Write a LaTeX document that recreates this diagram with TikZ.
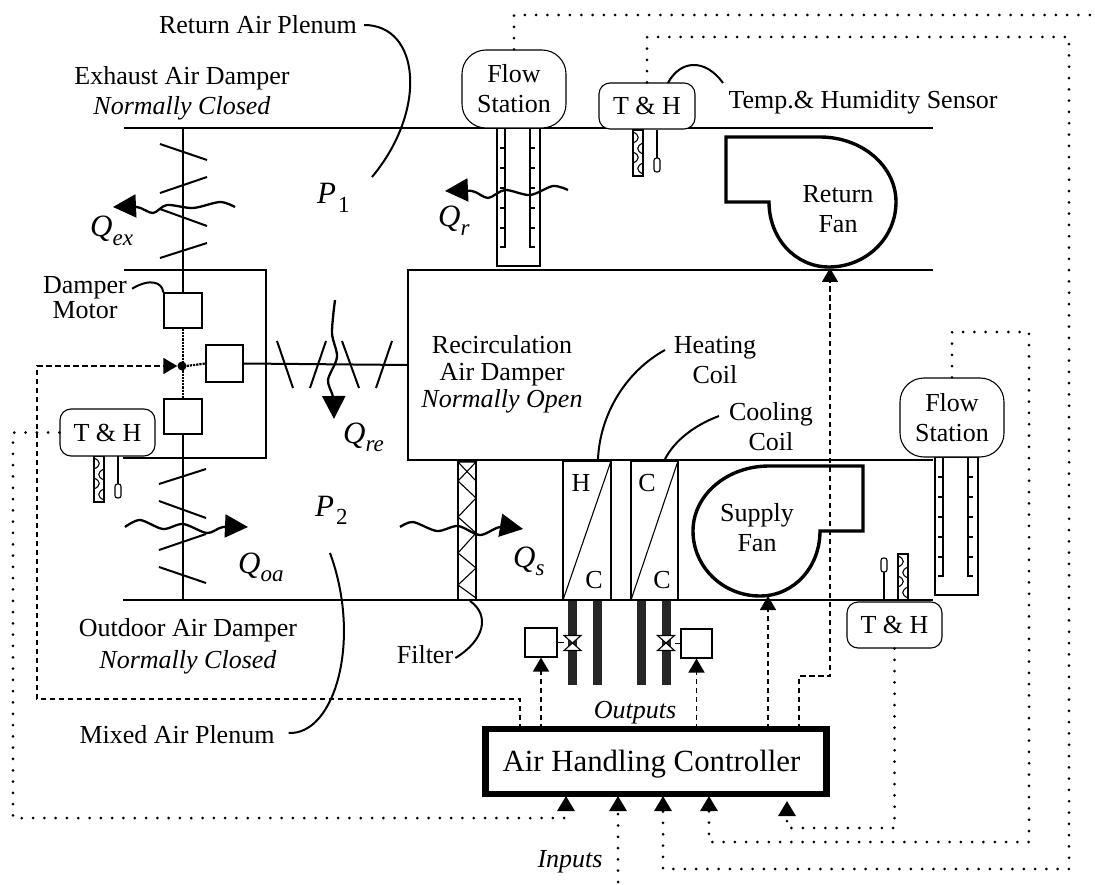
\documentclass[tikz,border=0pt]{standalone}
\usepackage{fontspec}
\setmainfont{Liberation Serif}
\usepackage{tikz}
\usetikzlibrary{arrows.meta}
\def\flowtube{%
    \draw[thinline,fill=white] (0,0) rectangle (43,138);
    \draw[thinline] (8,0) -- (8,119) -- (3,119);
    \draw[thinline] (33,0) -- (33,119) -- (38,119);
    \foreach \tick in {20,40,60,80,100} {
        \draw[thinline] (8,\tick) -- (3,\tick);
        \draw[thinline] (33,\tick) -- (38,\tick);
    }
}
\def\thprobe{%
    \draw[thinline,fill=white] (0,0) rectangle (10,46);
    \foreach \scal in {2,22} {
        \draw[thinline] (0,\scal) .. controls (7,\scal+3) and (7,\scal+8) .. (0,\scal+11);
        \draw[thinline] (10,\scal+11) .. controls (3,\scal+14) and (3,\scal+19) .. (10,\scal+22);
    }
    \draw[thinline] (24,0) -- (24,28);
    \draw[thinline,rounded corners=2.5pt] (21,28) rectangle (27,42);
}
\def\valve{%
    \draw[thinline,fill=white] (-8.5,-7.5) -- (8.5,-7.5) -- (-8.5,7.5) -- (8.5,7.5) -- cycle;
}
\def\returnfan{(726,137) -- (820,137) .. controls (862,137) and (896,166) .. (896,202) .. controls (896,238) and (866,267) .. (829,267) .. controls (795,267) and (769,238) .. (769,202) -- (726,202) -- cycle}
\def\supplyfan{(863,466) -- (769,466) .. controls (727,466) and (693,495) .. (693,531) .. controls (693,567) and (723,596) .. (760,596) .. controls (794,596) and (820,567) .. (820,531) -- (863,531) -- cycle}
\newcommand{\flowtext}[2]{\textit{#1}\raisebox{-8.5pt}{\fontsize{23}{23}\selectfont\textit{#2}}}
\tikzset{
    duct/.style={line width=2pt},
    blade/.style={line width=2pt},
    thinline/.style={line width=1.1pt},
    leader/.style={line width=2pt},
    fanline/.style={line width=3.4pt},
    pipe/.style={fill=black!85},
    lbl/.style={font=\fontsize{26}{30}\selectfont,inner sep=0pt,align=center},
    bigq/.style={font=\fontsize{31}{31}\selectfont,inner sep=0pt,anchor=base west},
    sensorbox/.style={draw,thinline,fill=white,rounded corners=11pt,inner sep=0pt,font=\fontsize{26}{30}\selectfont,align=center},
    stationbox/.style={sensorbox,rounded corners=24pt},
    motorbox/.style={draw,line width=1.5pt,fill=white,inner sep=0pt},
    flowarrow/.style={line width=2.3pt,-{Triangle[length=23pt,width=23pt]}},
    ctlline/.style={line width=1.6pt,dash pattern=on 5.5pt off 3.5pt},
    ctltip/.style={ctlline,-{Triangle[length=14pt,width=16pt]}},
    sigline/.style={line width=3pt,line cap=round,dash pattern=on 0pt off 11.3pt},
    sigtip/.style={sigline,-{Triangle[length=15pt,width=17pt]}},
}
\begin{document}
\begin{tikzpicture}[x=1pt,y=-1pt]
    \useasboundingbox (0,0) rectangle (1095,885);

    \draw[duct] (124,128.5) -- (933,128.5);
    \draw[duct] (124,270) -- (266,270) -- (266,458) -- (123,458);
    \draw[duct] (933,270.5) -- (408,270.5) -- (408,460) -- (933,460);
    \draw[duct] (123,600) -- (933,600);

    \node[motorbox,minimum width=38pt,minimum height=35pt] (motorA) at (183,310.5) {};
    \node[motorbox,minimum width=37pt,minimum height=37pt] (motorB) at (224.5,363.5) {};
    \node[motorbox,minimum width=38pt,minimum height=35pt] (motorC) at (183,416.5) {};
    \node[circle,fill=black,inner sep=0pt,minimum size=9pt] (hub) at (182,366) {};
    \coordinate (exTop) at (183,128.5);
    \coordinate (oaBottom) at (183,600);
    \coordinate (reRight) at (408,365);
    \draw[blade] (exTop) -- (motorA.north);
    \draw[blade] (motorC.south) -- (oaBottom);
    \draw[blade] (motorB.east) -- (reRight);
    \draw[line width=2.2pt,densely dotted] (motorA.south) -- (motorC.north);
    \draw[line width=2.2pt,densely dotted] (hub.east) -- (motorB.west);

    \draw[blade] (160,144) -- (207,160);
    \draw[blade] (160,193) -- (207,177);
    \draw[blade] (160,209) -- (207,226);
    \draw[blade] (160,258) -- (207,243);
    \draw[blade] (159,484) -- (206,469);
    \draw[blade] (159,501) -- (206,518);
    \draw[blade] (159,550) -- (206,534);
    \draw[blade] (159,567) -- (206,583);
    \draw[blade] (277,341) -- (293,388);
    \draw[blade] (326,341) -- (310,388);
    \draw[blade] (342,341) -- (359,388);
    \draw[blade] (392,341) -- (376,388);

    \begin{scope}[shift={(497,128)}]
        \flowtube
    \end{scope}
    \begin{scope}[shift={(935,457)}]
        \flowtube
    \end{scope}
    \begin{scope}[shift={(633,130)}]
        \thprobe
    \end{scope}
    \begin{scope}[shift={(94,456)}]
        \thprobe
    \end{scope}
    \begin{scope}[shift={(908,600)},xscale=-1,yscale=-1]
        \thprobe
    \end{scope}

    \draw[thinline,fill=white] (458,461) rectangle (476,600);
    \draw[thinline] (476,481) -- (458,462) -- (476,462) -- (458,481) -- (476,498) -- (458,517) -- (476,533) -- (458,553) -- (476,568) -- (458,585) -- (476,598);
    \draw[thinline] (563,461) rectangle (611,600);
    \draw[thinline] (563,600) -- (611,461);
    \draw[thinline] (631,461) rectangle (678,600);
    \draw[thinline] (631,600) -- (678,461);

    \draw[fanline] \returnfan;
    \draw[fanline] \supplyfan;

    \fill[pipe] (568,601) rectangle (577,685);
    \fill[pipe] (593,601) rectangle (602,685);
    \fill[pipe] (637,601) rectangle (646,685);
    \fill[pipe] (662,601) rectangle (671,685);
    \node[motorbox,thinline,minimum width=32pt,minimum height=29pt] (actA) at (541,642.5) {};
    \node[motorbox,thinline,minimum width=31pt,minimum height=29pt] (actB) at (696.5,643.5) {};
    \begin{scope}[shift={(572.5,643)}]
        \valve
    \end{scope}
    \begin{scope}[shift={(666,643)}]
        \valve
    \end{scope}
    \draw[thinline] (actA.east) -- (564,642.5);
    \draw[thinline] (actB.west) -- (674.5,643.5);

    \draw[flowarrow] plot[smooth] coordinates {(235,207) (220,202) (193,208) (167,205) (153,213) (137,207) (113,207)};
    \draw[flowarrow] plot[smooth] coordinates {(568,190) (553,186) (530,195) (505,190) (488,198) (472,191) (445,191)};
    \draw[flowarrow] plot[smooth] coordinates {(335,300) (332,333) (337,357) (328,380) (333,397) (334,419)};
    \draw[flowarrow] plot[smooth] coordinates {(125,527) (140,520) (163,529) (183,524) (207,533) (223,527) (248,527)};
    \draw[flowarrow] plot[smooth] coordinates {(400,527) (413,522) (437,531) (458,526) (480,535) (500,527) (523,529)};

    \node[lbl] (lblReturn) at (258,25) {Return Air Plenum};
    \node[lbl] (lblExhaust) at (182,93) {Exhaust Air Damper\\\textit{Normally Closed}};
    \node[lbl,font=\fontsize{26}{25}\selectfont] (lblMotor) at (85,298) {Damper\\Motor};
    \node[lbl,font=\fontsize{26}{27}\selectfont] (lblRecirc) at (502,374) {Recirculation\\Air Damper\\\textit{Normally Open}};
    \node[lbl] (lblHeat) at (715,360) {Heating\\Coil};
    \node[lbl] (lblCool) at (771,427) {Cooling\\Coil};
    \node[lbl] (lblOutdoor) at (188,646) {Outdoor Air Damper\\[2pt]\textit{Normally Closed}};
    \node[lbl] (lblFilter) at (425,655) {Filter};
    \node[lbl] (lblMixed) at (177,735) {Mixed Air Plenum};
    \node[lbl] (lblSensor) at (863,102) {Temp.\& Humidity Sensor};
    \node[lbl] (lblOutputs) at (635,713) {\textit{Outputs}};
    \node[lbl] (lblInputs) at (570,862) {\textit{Inputs}};
    \node[lbl] (lblRfan) at (838,209) {Return\\Fan};
    \node[lbl] (lblSfan) at (757,528) {Supply\\Fan};
    \node[lbl] (coilH) at (581,483) {H};
    \node[lbl] (coilHc) at (594,580) {C};
    \node[lbl] (coilC) at (647,483) {C};
    \node[lbl] (coilCc) at (662,580) {C};

    \node[bigq] (qex) at (90,237) {\flowtext{Q}{ex}};
    \node[bigq] (qr) at (438,227) {\flowtext{Q}{r}};
    \node[bigq] (qre) at (343,443) {\flowtext{Q}{re}};
    \node[bigq] (qoa) at (238,573) {\flowtext{Q}{oa}};
    \node[bigq] (qs) at (513,567) {\flowtext{Q}{s}};
    \node[bigq] (pa) at (317,204) {\flowtext{P}{\kern2pt\textup{1}}};
    \node[bigq] (pb) at (315,516) {\flowtext{P}{\kern2pt\textup{2}}};

    \node[sensorbox,minimum width=96pt,minimum height=46pt] (thTop) at (647,106) {T \& H};
    \node[sensorbox,minimum width=95pt,minimum height=47pt] (thLeft) at (107.5,432.5) {T \& H};
    \node[sensorbox,minimum width=95pt,minimum height=46pt] (thRight) at (894.5,625) {T \& H};
    \node[stationbox,minimum width=104pt,minimum height=78pt] (flowTop) at (514,89) {Flow\\Station};
    \node[stationbox,minimum width=104pt,minimum height=79pt] (flowRight) at (952,417.5) {Flow\\Station};

    \draw[leader] ([xshift=7pt]lblReturn.east) .. controls (420,25) and (428,110) .. (372,177);
    \draw[leader] ([xshift=5pt,yshift=-12pt]lblMotor.north east) .. controls (150,278) and (162,282) .. (motorA.north west);
    \draw[leader] (668,83) .. controls (680,60) and (705,58) .. (723,83);
    \draw[leader] (665,350) .. controls (625,372) and (600,415) .. (598,459);
    \draw[leader] (719,416) .. controls (695,425) and (675,440) .. (665,459);
    \draw[leader] ([xshift=2pt,yshift=-3pt]lblFilter.east) .. controls (485,640) and (490,615) .. (470,601);
    \draw[leader] ([xshift=14pt,yshift=2pt]lblMixed.east) .. controls (335,735) and (362,640) .. (330,553);

    \node[draw,line width=6.5pt,fill=white,inner sep=0pt,outer sep=0pt,minimum width=341pt,minimum height=65pt,font=\fontsize{30.8}{31}\selectfont] (ctrl) at (656,761.5) {\raisebox{0pt}[19pt][0pt]{\kern-9pt Air Handling Controller}};

    \coordinate (tapM) at (520,699);
    \coordinate (tapW) at (37,366);
    \coordinate (tapR) at (799,676);
    \coordinate (fanS) at (768,596);
    \coordinate (fanR) at (830,268);
    \draw[ctltip] (ctrl.north -| tapM) -- (tapM) -| (tapW) -- (hub.west);
    \draw[ctltip] (ctrl.north -| actA.south) -- (actA.south);
    \draw[ctltip] (ctrl.north -| actB.south) -- (actB.south);
    \draw[ctltip] (ctrl.north -| fanS) -- (fanS);
    \draw[ctltip] (ctrl.north -| tapR) -- (tapR) -| (fanR);

    \coordinate (inA) at (566,796);
    \coordinate (inB) at (618,796);
    \coordinate (inC) at (663,796);
    \coordinate (inD) at (709,796);
    \coordinate (inE) at (787,801);
    \coordinate (railW) at (13,818);
    \coordinate (railE) at (1069,37);
    \coordinate (railD) at (1029,332);
    \coordinate (footB) at (618,882);
    \coordinate (footC) at (663,869);
    \coordinate (footD) at (709,842);
    \coordinate (footE) at (787,828);
    \coordinate (flowOut) at (1095,15);
    \draw[sigtip] (thLeft.west) -| (railW) -- (railW -| inA) -- (inA);
    \draw[sigtip] (footB) -- (inB);
    \draw[sigtip] (thTop.north) |- (railE) |- (footC) -- (inC);
    \draw[sigtip] (flowRight.north) |- (railD) |- (footD) -- (inD);
    \draw[sigtip] (thRight.south) |- (footE) -- (inE);
    \draw[sigline] (flowTop.north) |- (flowOut);
\end{tikzpicture}
\end{document}
